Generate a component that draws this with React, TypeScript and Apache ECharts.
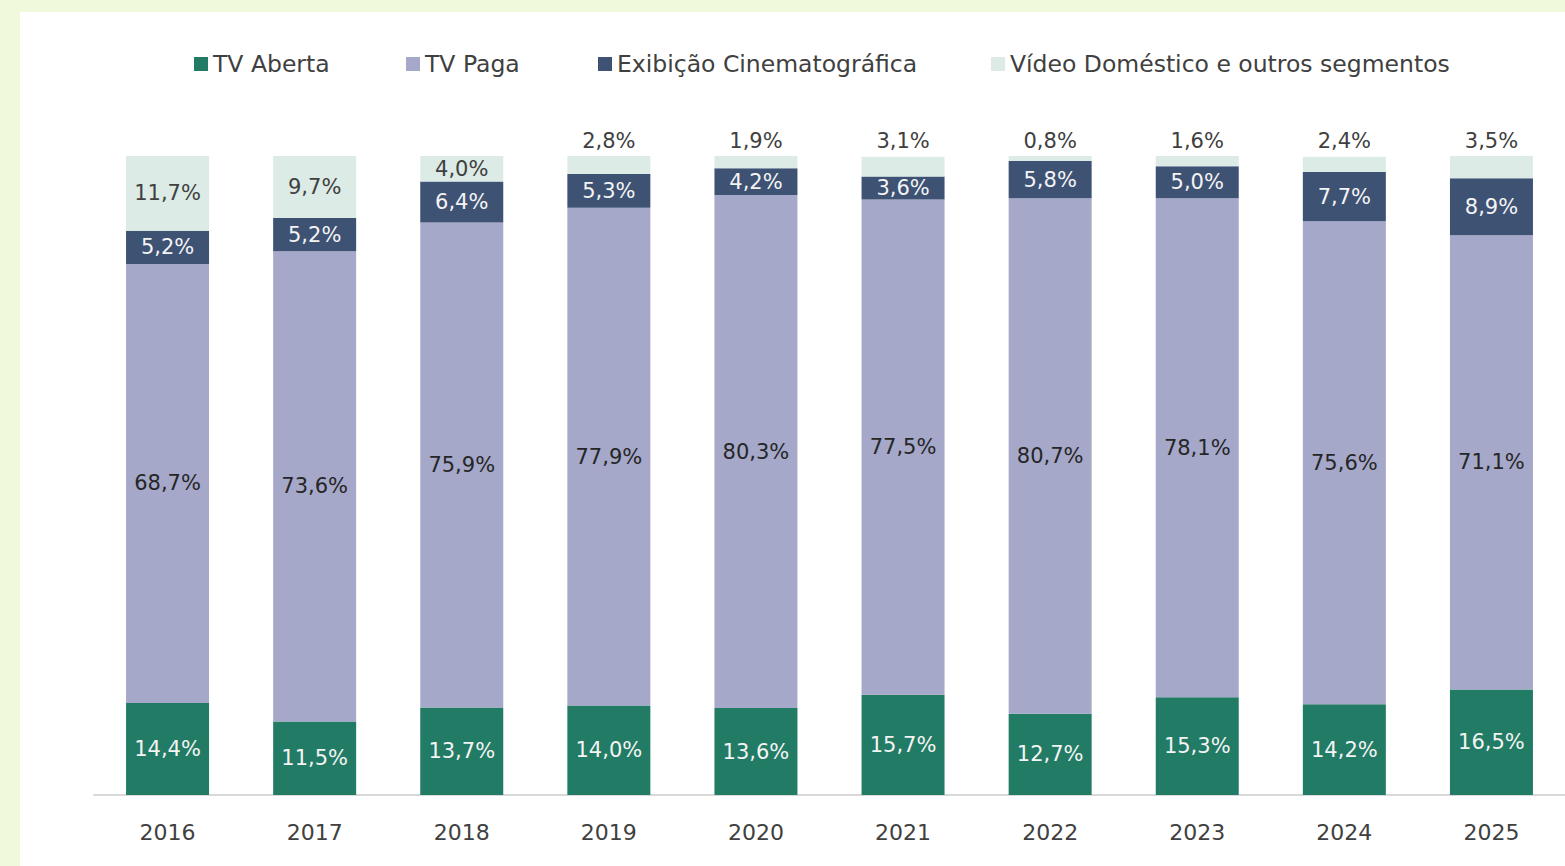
import React, { useEffect, useRef } from "react";
import * as echarts from "echarts";

const years = ["2016", "2017", "2018", "2019", "2020", "2021", "2022", "2023", "2024", "2025"];
const tvAberta = [14.4, 11.5, 13.7, 14.0, 13.6, 15.7, 12.7, 15.3, 14.2, 16.5];
const tvPaga = [68.7, 73.6, 75.9, 77.9, 80.3, 77.5, 80.7, 78.1, 75.6, 71.1];
const exibicao = [5.2, 5.2, 6.4, 5.3, 4.2, 3.6, 5.8, 5.0, 7.7, 8.9];
const video = [11.7, 9.7, 4.0, 2.8, 1.9, 3.1, 0.8, 1.6, 2.4, 3.5];
const seriesNames = ["TV Aberta", "TV Paga", "Exibição Cinematográfica", "Vídeo Doméstico e outros segmentos"];
const colors = ["#227b64", "#a5a8c9", "#3e5274", "#dcebe5"];
const labelColors = ["#f4f4f4", "#262626", "#f4f4f4", "#404040"];

const FONT = "DejaVu Sans";
const fmt = (v: number) => v.toFixed(1).replace(".", ",") + "%";

export default function App() {
  const ref = useRef<HTMLDivElement>(null);
  useEffect(() => {
    if (!ref.current) return;
    const chart = echarts.init(ref.current, undefined, { renderer: "svg" });
    const values = [tvAberta, tvPaga, exibicao, video];
    const legendX = [174, 386, 578, 971];
    chart.setOption({
      animation: false,
      backgroundColor: "#ffffff",
      textStyle: { fontFamily: FONT },
      legend: seriesNames.map((n, i) => ({
        data: [n],
        left: legendX[i],
        top: 40,
        padding: 0,
        itemWidth: 14,
        itemHeight: 14,
        itemGap: 0,
        icon: "rect",
        textStyle: { fontFamily: FONT, fontSize: 23.5, color: "#404040" },
        selectedMode: false,
      })),
      grid: { left: 74, right: 0, top: 144, bottom: 71, containLabel: false },
      xAxis: {
        type: "category",
        data: years,
        axisLine: { lineStyle: { color: "#d9d9d9", width: 2 } },
        axisTick: { show: false },
        axisLabel: { color: "#404040", fontSize: 22, fontFamily: FONT, margin: 26 },
      },
      yAxis: { type: "value", min: 0, max: 100, show: false, splitLine: { show: false } },
      series: values.map((arr, i) => ({
        name: seriesNames[i],
        type: "bar",
        stack: "total",
        barWidth: 83,
        itemStyle: { color: colors[i] },
        data: arr.map((v) => {
          const outside = i === 3 && v < 3.8;
          return {
            value: v,
            label: {
              show: true,
              position: outside ? "top" : "inside",
              distance: 5,
              color: outside ? "#404040" : labelColors[i],
              fontSize: 21,
              fontFamily: FONT,
              formatter: () => fmt(v),
            },
          };
        }),
      })),
    });
    return () => chart.dispose();
  }, []);
  return (
    <div style={{ position: "fixed", left: 0, top: 0, width: 1565, height: 866, background: "#f1f9dc", overflow: "hidden" }}>
      <div ref={ref} style={{ position: "absolute", left: 20, top: 12, width: 1545, height: 854 }} />
    </div>
  );
}
